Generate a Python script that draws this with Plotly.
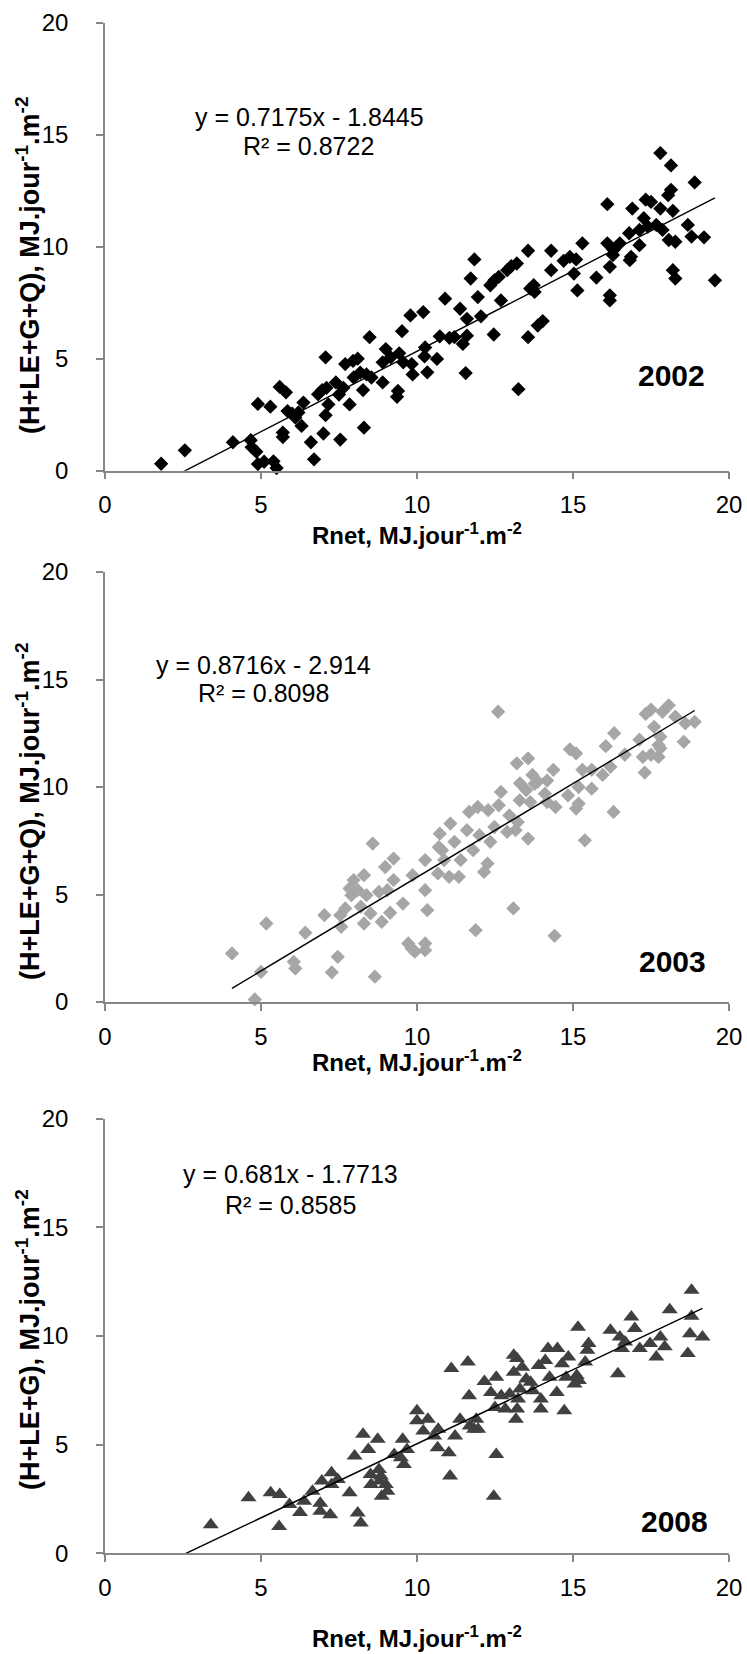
import plotly.graph_objects as go

# ---------------- data ----------------
x2002 = [1.8, 2.56, 4.1, 4.67, 4.7, 4.85, 4.9, 5.1, 5.4, 5.5, 4.9, 5.3, 5.6, 5.8, 5.7, 5.7, 5.85, 6.0, 6.1, 6.2,
         6.36, 6.3, 6.6, 6.7, 7.0, 7.07, 6.83, 6.96, 7.1, 7.16, 7.07, 7.54, 7.4, 7.5, 7.64, 7.7, 7.84, 7.95, 8.1, 7.97,
         8.18, 8.27, 8.38, 8.48, 8.54, 8.3, 8.9, 8.9, 9.0, 9.16, 9.39, 9.36, 9.43, 9.52, 9.56, 9.79, 9.86, 9.83, 10.2, 10.26,
         10.33, 10.24, 10.64, 10.73, 10.9, 11.04, 11.2, 11.38, 11.47, 11.56, 11.6, 11.6, 11.72, 11.84, 11.95, 12.05, 12.46, 12.35, 12.48, 12.69,
         12.62, 12.89, 13.02, 13.2, 13.25, 13.56, 13.56, 13.63, 13.77, 13.74, 13.87, 14.03, 14.3, 14.3, 14.7, 14.9, 15.1, 15.03, 15.14, 15.3,
         15.75, 16.1, 16.18, 16.18, 16.18, 16.28, 16.5, 16.82, 17.13, 18.07, 18.28, 18.2, 18.28, 18.8, 19.55,
         16.1, 16.9, 17.33, 17.5, 17.8, 18.14, 18.9, 18.14, 18.05, 17.8, 18.2, 17.27, 17.13, 17.4, 17.67, 17.87, 18.68, 19.2, 16.3, 16.86, 16.8]
y2002 = [0.31, 0.91, 1.27, 1.36, 1.05, 0.85, 0.3, 0.4, 0.42, 0.12, 2.98, 2.86, 3.74, 3.5, 1.7, 1.5, 2.66, 2.55, 2.37, 2.6,
         3.04, 2.0, 1.27, 0.51, 1.66, 5.06, 3.41, 3.6, 3.7, 2.96, 2.48, 1.39, 3.94, 3.4, 3.7, 4.76, 2.96, 4.9, 5.0, 4.16,
         4.38, 3.6, 4.3, 5.96, 4.16, 1.92, 3.94, 4.84, 5.43, 5.06, 3.56, 3.3, 5.24, 6.23, 4.84, 6.93, 4.3, 4.76, 7.08, 5.5,
         4.39, 5.1, 4.99, 6.0, 7.68, 5.93, 5.96, 7.23, 5.66, 4.36, 6.78, 6.03, 8.58, 9.43, 7.75, 6.89, 6.08, 8.28, 8.5, 7.6,
         8.65, 8.95, 9.13, 9.25, 3.64, 9.82, 5.96, 8.13, 7.98, 8.28, 6.48, 6.68, 9.82, 8.95, 9.37, 9.55, 9.43, 8.8, 8.05, 10.15,
         8.62, 10.15, 9.1, 7.83, 7.6, 9.63, 10.15, 9.4, 10.07, 10.3, 10.22, 8.95, 8.58, 10.45, 8.5,
         11.9, 11.7, 12.1, 12.0, 14.18, 13.63, 12.87, 12.54, 12.3, 11.7, 11.6, 11.27, 10.75, 10.9, 10.97, 10.75, 10.97, 10.42, 9.85, 9.55, 10.6]

x2003 = [4.07, 4.8, 5.0, 5.17, 6.05, 6.1, 6.42, 7.03, 7.27, 7.46, 7.54, 7.57, 7.7, 7.84, 7.97, 7.9, 8.1, 8.3, 8.2, 8.3,
         8.38, 8.51, 8.58, 8.65, 8.78, 8.87, 8.98, 9.05, 9.14, 9.25, 9.25, 9.55, 9.72, 9.83, 9.86, 9.93, 10.26, 10.26, 10.26, 10.33,
         10.26, 10.73, 10.7, 10.67, 10.8, 10.87, 11.03, 11.07, 11.2, 11.34, 11.4, 11.6, 11.67, 11.8, 11.88, 11.95, 12.0, 12.15, 12.26, 12.28,
         12.35, 12.48, 12.62, 12.69, 12.89, 12.96, 13.09, 13.16, 13.23, 13.29, 13.56, 13.5, 13.63, 13.77, 14.1, 14.17, 14.41, 14.44, 14.84, 15.1,
         15.18, 15.18, 15.38, 15.6, 16.3,
         12.6, 17.33, 17.5, 18.07, 17.87, 18.28, 18.6, 18.9, 18.55, 17.6, 17.8, 17.74, 17.5, 17.13, 17.24, 17.3, 17.74, 17.8, 16.32, 16.05,
         16.66, 16.2, 15.95, 15.6, 14.9, 15.1, 15.3, 14.37, 14.17, 13.87, 13.56, 13.2, 13.7, 13.3]
y2003 = [2.26, 0.12, 1.4, 3.65, 1.87, 1.56, 3.22, 4.04, 1.38, 2.1, 4.04, 3.5, 4.35, 5.28, 5.67, 4.97, 5.2, 5.9, 4.43, 3.65,
         4.97, 4.12, 7.37, 1.18, 5.12, 3.73, 6.28, 5.2, 4.15, 6.67, 5.67, 4.58, 2.72, 2.49, 5.9, 2.34, 2.72, 2.41, 5.2, 4.27,
         6.6, 7.83, 7.2, 5.98, 7.06, 6.6, 5.82, 8.3, 7.45, 5.82, 6.6, 7.99, 8.84, 7.06, 3.34, 9.07, 7.76, 6.05, 6.44, 8.92,
         7.45, 8.14, 9.15, 9.77, 7.91, 8.68, 4.35, 7.99, 8.37, 9.38, 7.6, 9.85, 9.3, 10.15, 9.69, 9.3, 3.08, 9.07, 9.61, 9.0,
         9.23, 10.0, 7.52, 9.92, 8.84,
         13.5, 13.4, 13.6, 13.8, 13.5, 13.27, 12.96, 13.03, 12.1, 12.8, 12.34, 11.95, 11.5, 12.2, 11.4, 10.67, 11.4, 11.8, 12.5, 11.9,
         11.5, 10.94, 10.56, 10.8, 11.75, 11.56, 10.8, 10.8, 10.3, 10.25, 11.33, 11.1, 10.56, 10.17]

x2008 = [18.8, 18.1, 18.8, 16.87, 16.98, 16.2, 16.5, 17.8, 18.75, 19.15, 15.16,
         16.67, 16.57, 17.47, 17.14, 17.67, 17.94, 18.68, 15.5, 15.46, 13.1, 13.2, 14.2, 14.5, 14.85, 11.63, 11.1,
         3.39, 4.6, 5.31, 5.6, 5.58, 5.91, 6.25, 6.38, 6.65, 6.9, 6.9, 6.95, 7.26, 7.26, 7.22, 7.46, 7.84, 8.0,
         8.1, 8.2, 8.27, 8.44, 8.51, 8.53, 8.74, 8.78, 8.84, 8.8, 9.0, 8.87, 9.05, 9.27, 9.48, 9.54, 9.58, 9.68,
         10.0, 10.0, 10.2, 10.35, 10.55, 10.68, 10.66, 11.02, 11.06, 11.22, 11.38, 11.67, 11.69, 11.83, 11.9, 11.96,
         12.16, 12.37, 12.46, 12.54, 12.54, 12.5, 12.7, 12.83, 12.97, 13.1, 13.17, 13.21, 13.24, 13.3, 13.37, 13.5,
         13.64, 13.71, 13.9, 13.97, 13.97, 14.11, 14.25, 14.48, 14.65, 14.72, 14.78, 15.05, 15.12, 15.19, 15.39, 16.44]
y2008 = [12.1, 11.2, 10.9, 10.87, 10.34, 10.26, 9.95, 9.95, 10.1, 9.95, 10.4,
         9.72, 9.42, 9.65, 9.42, 9.03, 9.5, 9.19, 9.65, 9.34, 9.11, 8.96, 9.42, 9.42, 9.03, 8.8, 8.5,
         1.31, 2.55, 2.78, 2.7, 1.23, 2.24, 1.88, 2.39, 2.85, 2.3, 1.93, 3.32, 3.7, 3.16, 1.77, 3.4, 2.78, 4.48,
         1.85, 1.39, 5.48, 4.78, 3.63, 3.16, 5.25, 3.86, 3.55, 3.32, 3.16, 2.62, 2.85, 4.55, 4.4, 5.25, 4.09, 4.78,
         6.56, 6.1, 5.63, 6.17, 5.4, 5.71, 4.86, 4.63, 3.55, 5.4, 6.17, 7.25, 5.86, 5.71, 6.17, 5.71,
         7.9, 7.4, 2.62, 8.1, 4.55, 6.71, 7.25, 6.64, 7.33, 8.33, 6.17, 6.64, 7.1, 7.56, 8.56, 8.02,
         7.87, 7.48, 8.64, 7.1, 6.64, 8.87, 8.1, 7.4, 8.72, 6.56, 8.1, 7.79, 8.18, 7.95, 8.8, 8.26]

years = ["2002", "2003", "2008"]
slopes = [0.7175, 0.8716, 0.681]
intercepts = [-1.8445, -2.914, -1.7713]
r2_values = [0.8722, 0.8098, 0.8585]
eq_labels = ["y = 0.7175x - 1.8445", "y = 0.8716x - 2.914", "y = 0.681x - 1.7713"]
r2_labels = ["R² = 0.8722", "R² = 0.8098", "R² = 0.8585"]
trend_backward = [0.0, 0.0, 1.0]
y_titles = ["(H+LE+G+Q), MJ.jour<sup>-1</sup>.m<sup>-2</sup>",
            "(H+LE+G+Q), MJ.jour<sup>-1</sup>.m<sup>-2</sup>",
            "(H+LE+G), MJ.jour<sup>-1</sup>.m<sup>-2</sup>"]
x_title = "Rnet, MJ.jour<sup>-1</sup>.m<sup>-2</sup>"
tick_vals = [0, 5, 10, 15, 20]
tick_text = ["0", "5", "10", "15", "20"]

# ---------------- styles / layout ----------------
W, H = 747, 1654
FONT = "Liberation Sans, Arial, sans-serif"
AXIS_GRAY = "#868686"
marker_styles = [
    dict(symbol="diamond", size=11, color="#000000"),
    dict(symbol="diamond", size=11, color="#a6a6a6"),
    dict(symbol="triangle-up", size=14, color="#404040"),
]
# pixel geometry of the three plot areas: (left, right, top, bottom)
panels = [(105, 729, 22.7, 470.7), (105, 729, 572, 1002), (105, 729, 1118.5, 1553.3)]
eq_pos = [(309, 117, 308, 146), (263, 665, 263, 693), (290, 1174, 290, 1205)]
year_pos = [(671, 376), (672, 961), (674, 1521)]
xtitle_y = [534, 1061, 1637]
ytitle_pos = [(28, 266), (28, 812), (28, 1340)]


def px(x):
    return x / W


def py(y):
    return 1 - y / H


fig = go.Figure()
datasets = [(x2002, y2002), (x2003, y2003), (x2008, y2008)]
annotations = []
for i, (xs, ys) in enumerate(datasets):
    sfx = "" if i == 0 else str(i + 1)
    xa, ya = "x" + sfx, "y" + sfx
    fig.add_trace(go.Scatter(x=xs, y=ys, mode="markers", xaxis=xa, yaxis=ya,
                             marker=dict(symbol=marker_styles[i]["symbol"], size=marker_styles[i]["size"],
                                         color=marker_styles[i]["color"], line=dict(width=0)),
                             cliponaxis=False, showlegend=False, hoverinfo="skip"))
    x0 = min(xs) - trend_backward[i]
    x1 = max(xs)
    tx = [x0, x1]
    ty = [slopes[i] * v + intercepts[i] for v in tx]
    fig.add_trace(go.Scatter(x=tx, y=ty, mode="lines", xaxis=xa, yaxis=ya,
                             line=dict(color="black", width=1.4), showlegend=False, hoverinfo="skip"))
    l, r, t, b = panels[i]
    axis_common = dict(range=[0, 20], tickvals=tick_vals, ticktext=tick_text, showline=True,
                       linecolor=AXIS_GRAY, linewidth=1.5, ticks="outside", ticklen=7,
                       tickcolor=AXIS_GRAY, tickwidth=1.5, showgrid=False, zeroline=False,
                       automargin=False,
                       tickfont=dict(family=FONT, size=24, color="black"), fixedrange=True)
    fig.update_layout(**{
        "xaxis" + sfx: dict(domain=[px(l), px(r)], anchor=ya, ticklabelstandoff=5, **axis_common),
        "yaxis" + sfx: dict(domain=[py(b), py(t)], anchor=xa, ticklabelstandoff=23, **axis_common),
    })
    ex, ey, rx, ry = eq_pos[i]
    annotations.append(dict(x=px(ex), y=py(ey), xref="paper", yref="paper", text=eq_labels[i],
                            showarrow=False, font=dict(family=FONT, size=25, color="black"),
                            xanchor="center", yanchor="middle"))
    annotations.append(dict(x=px(rx), y=py(ry), xref="paper", yref="paper", text=r2_labels[i],
                            showarrow=False, font=dict(family=FONT, size=25, color="black"),
                            xanchor="center", yanchor="middle"))
    yx, yy = year_pos[i]
    annotations.append(dict(x=px(yx), y=py(yy), xref="paper", yref="paper", text="<b>" + years[i] + "</b>",
                            showarrow=False, font=dict(family=FONT, size=30, color="black"),
                            xanchor="center", yanchor="middle"))
    annotations.append(dict(x=px((l + r) / 2), y=py(xtitle_y[i]), xref="paper", yref="paper",
                            text="<b>" + x_title + "</b>", showarrow=False,
                            font=dict(family=FONT, size=24, color="black"),
                            xanchor="center", yanchor="middle"))
    tx_, ty_ = ytitle_pos[i]
    annotations.append(dict(x=px(tx_), y=py(ty_), xref="paper", yref="paper",
                            text="<b>" + y_titles[i] + "</b>", showarrow=False, textangle=-90,
                            font=dict(family=FONT, size=27, color="black"),
                            xanchor="center", yanchor="middle"))

fig.update_layout(width=W, height=H, autosize=False,
                  margin=dict(l=0, r=0, t=0, b=0, pad=0, autoexpand=False),
                  paper_bgcolor="white", plot_bgcolor="white", annotations=annotations,
                  font=dict(family=FONT, color="black"))
fig.write_html("out.html", post_script="document.body.style.margin='0px';")
